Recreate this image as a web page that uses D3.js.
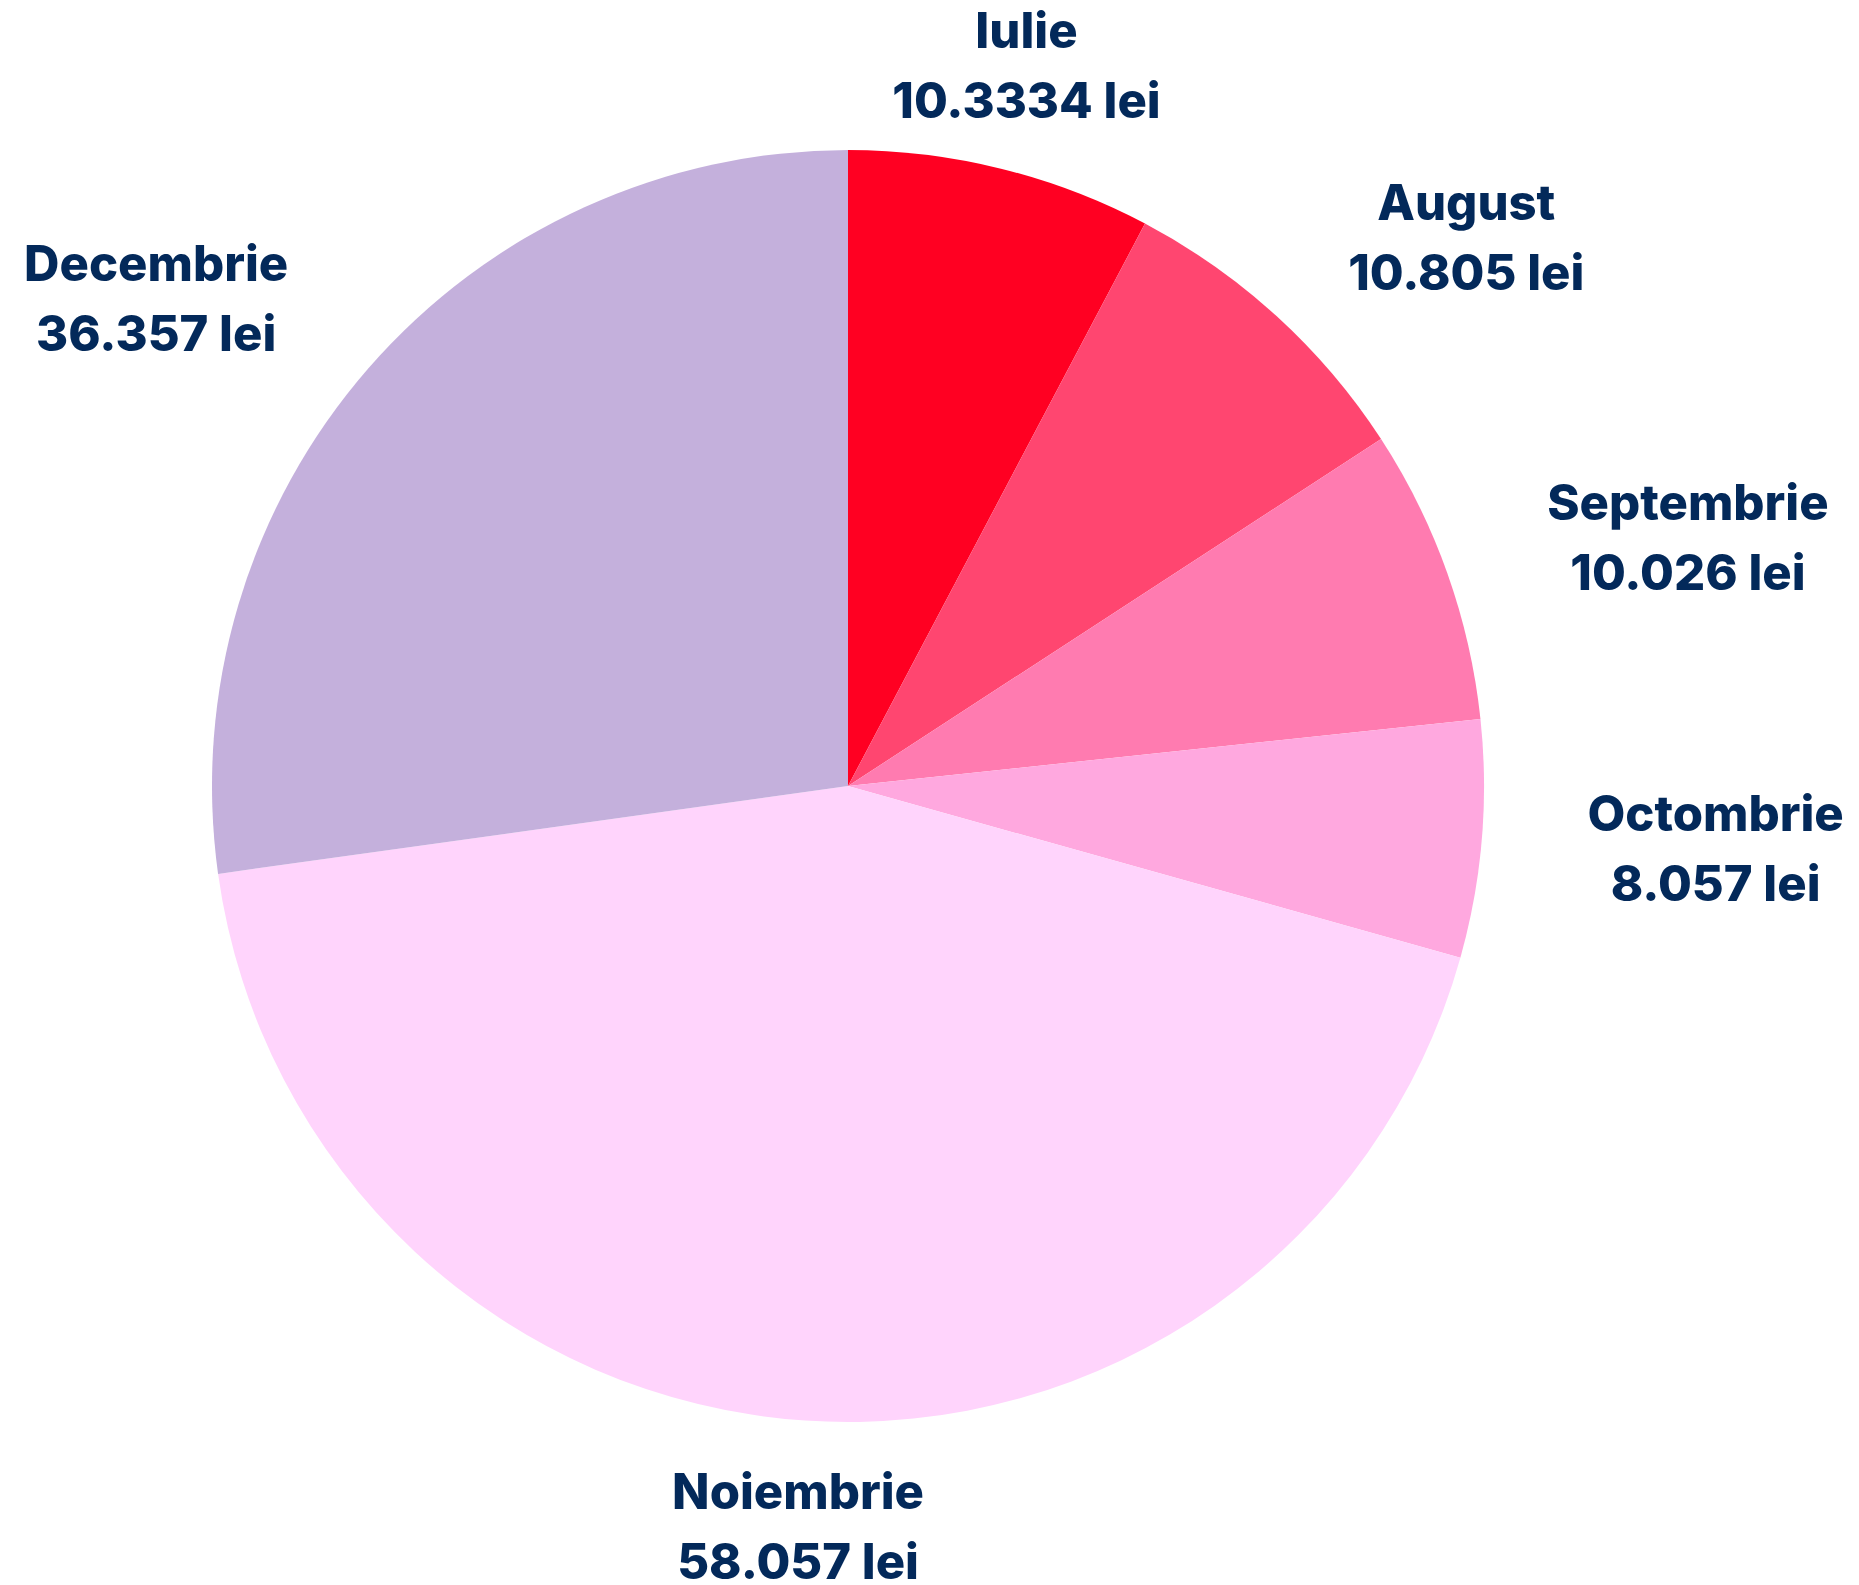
<!DOCTYPE html>
<html>
<head>
<meta charset="utf-8">
<script src="https://cdn.jsdelivr.net/npm/d3@7"></script>
<style>
  html, body { margin: 0; padding: 0; background: #ffffff; }
  svg { display: block; }
</style>
</head>
<body>
<div id="chart"></div>
<script>
// ── Data ───────────────────────────────────────────────────────────────────────
const months = ["Iulie", "August", "Septembrie", "Octombrie", "Noiembrie", "Decembrie"];
const amounts = [10.3334, 10.805, 10.026, 8.057, 58.057, 36.357];
const amountLabels = ["10.3334 lei", "10.805 lei", "10.026 lei", "8.057 lei", "58.057 lei", "36.357 lei"];
const sliceColors = ["#FF0022", "#FF4670", "#FF7BB0", "#FFA8DF", "#FFD4FC", "#C4B0DC"];

// ── Layout ─────────────────────────────────────────────────────────────────────
const W = 1859, H = 1585;
const cx = 848, cy = 786, radius = 636;
const labelRadius = 742;
const textColor = "#03295a";

const svg = d3.select("#chart").append("svg")
    .attr("width", W)
    .attr("height", H)
    .attr("viewBox", `0 0 ${W} ${H}`);

const g = svg.append("g").attr("transform", `translate(${cx},${cy})`);

const rows = months.map((m, i) => ({ month: m, value: amounts[i], label: amountLabels[i], color: sliceColors[i] }));

const pie = d3.pie().value(d => d.value).sort(null);
const arc = d3.arc().innerRadius(0).outerRadius(radius);
const labelArc = d3.arc().innerRadius(labelRadius).outerRadius(labelRadius);

const arcs = pie(rows);

g.selectAll("path.slice")
    .data(arcs)
    .enter()
    .append("path")
    .attr("class", "slice")
    .attr("d", arc)
    .attr("fill", d => d.data.color);

// ── Labels ─────────────────────────────────────────────────────────────────────
const lineGap = 35;

const labels = g.selectAll("g.label")
    .data(arcs)
    .enter()
    .append("g")
    .attr("class", "label")
    .attr("transform", d => {
        const [x, y] = labelArc.centroid(d);
        return `translate(${x},${y})`;
    });

labels.each(function(d) {
    const mid = (d.startAngle + d.endAngle) / 2;
    const s = Math.sin(mid);
    const grp = d3.select(this);

    const lines = [d.data.month, d.data.label];
    const texts = grp.selectAll("text")
        .data(lines)
        .enter()
        .append("text")
        .attr("y", (t, i) => (i === 0 ? -lineGap : lineGap))
        .attr("dominant-baseline", "central")
        .attr("text-anchor", "middle")
        .attr("font-family", "Inter, 'Noto Sans', sans-serif")
        .attr("font-weight", 800)
        .attr("font-size", 49)
        .attr("fill", textColor)
        .text(t => t);

    // side labels: block hugs the anchor point, lines centred inside the block
    if (Math.abs(s) > 0.5) {
        let w = 0;
        texts.each(function() { w = Math.max(w, this.getComputedTextLength()); });
        texts.attr("x", s > 0 ? w / 2 : -w / 2);
    }
});
</script>
</body>
</html>
